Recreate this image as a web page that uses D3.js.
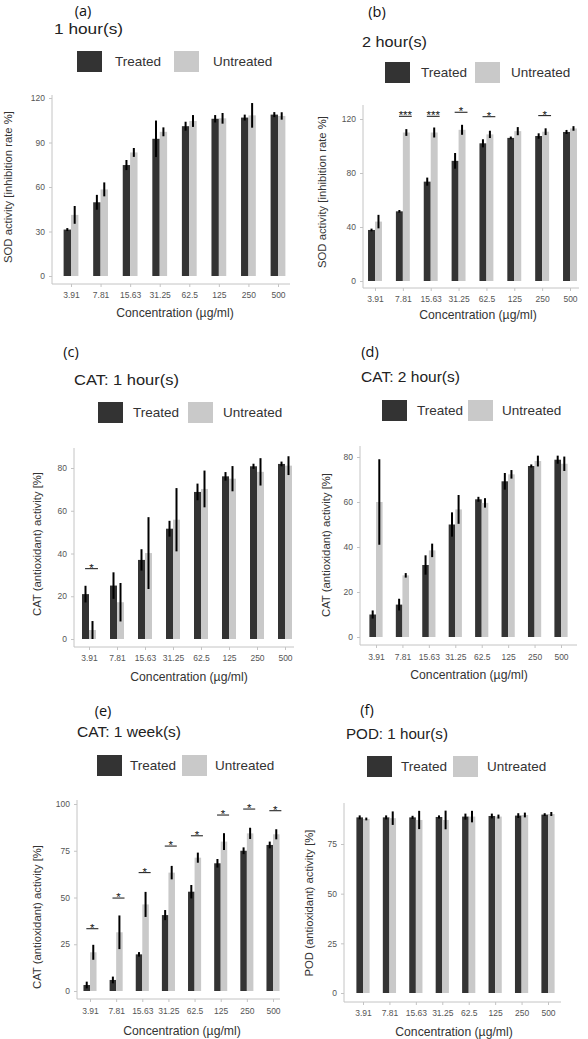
<!DOCTYPE html>
<html><head><meta charset="utf-8">
<script src="https://cdn.jsdelivr.net/npm/d3@7"></script>
<style>body{margin:0;background:#fff}svg{display:block}text{font-family:"Liberation Sans",Arial,sans-serif}</style>
</head><body><svg id="c" width="588" height="1039"></svg>
<script>
// ---------- DATA ----------
const concentrations = ["3.91","7.81","15.63","31.25","62.5","125","250","500"];
const seriesNames = ["Treated","Untreated"];

const sod1hTreated      = [31.3, 49.7, 74.8, 92.5, 101, 106, 106.8, 108.8];
const sod1hTreatedErr   = [1, 5, 3.4, 12.3, 3, 2.5, 2, 1.7];
const sod1hUntreated    = [41.2, 58.4, 83.3, 97.2, 104.5, 106.3, 108.3, 107.9];
const sod1hUntreatedErr = [6, 4.7, 3, 3, 4, 3.6, 8.3, 2.5];
const sod1hTicks = [0, 30, 60, 90, 120];

const sod2hTreated      = [37.8, 51.6, 73.6, 89, 102, 106, 107.4, 110.4];
const sod2hTreatedErr   = [1, 1, 3, 5.8, 3, 1, 2, 1.5];
const sod2hUntreated    = [44, 110, 110, 112, 108.6, 111, 110.6, 113];
const sod2hUntreatedErr = [5, 2.5, 3.7, 3.7, 2.7, 3, 2.5, 1.7];
const sod2hSigLabels = ["", "***", "***", "*", "*", "", "*", ""];
const sod2hSigY      = [null, 122, 122, 125, 121.7, null, 122.5, null];
const sod2hTicks = [0, 40, 80, 120];

const cat1hTreated      = [21, 25, 37, 51.6, 68.8, 76.1, 80.8, 81.9];
const cat1hTreatedErr   = [3.9, 6.2, 5, 3.7, 3.9, 2, 1.2, 1.1];
const cat1hUntreated    = [4.2, 17.2, 40.2, 55.8, 70.2, 75, 78.2, 81.1];
const cat1hUntreatedErr = [4.2, 9, 16.8, 14.8, 8.6, 5.9, 6.4, 4.4];
const cat1hSigLabels = ["*", "", "", "", "", "", "", ""];
const cat1hSigY      = [32.9, null, null, null, null, null, null, null];
const cat1hTicks = [0, 20, 40, 60, 80];

const cat2hTreated      = [10, 14.4, 32, 50, 61.2, 69.2, 76, 78.8];
const cat2hTreatedErr   = [1.8, 2.6, 4.3, 5.4, 1.1, 3.7, 0.7, 1.8];
const cat2hUntreated    = [60, 27.4, 38.5, 56.7, 59.6, 72.3, 78.2, 77];
const cat2hUntreatedErr = [19, 1, 3, 6.4, 2.1, 1.9, 2.4, 3.2];
const cat2hTicks = [0, 20, 40, 60, 80];

const cat1wTreated      = [3.2, 5.9, 19.6, 40.6, 53.1, 68.3, 75, 78.1];
const cat1wTreatedErr   = [1.8, 1.8, 1.2, 2.7, 3.6, 2.3, 1.8, 1.8];
const cat1wUntreated    = [20.7, 31.4, 46.3, 63.3, 71.3, 79.9, 84.3, 83.8];
const cat1wUntreatedErr = [4, 9, 6.7, 3.6, 2.7, 4.5, 3, 2.7];
const cat1wSigLabels = ["*", "*", "*", "*", "*", "*", "*", "*"];
const cat1wSigY      = [33.3, 49.7, 63.3, 77.5, 83, 94.1, 97.3, 96.4];
const cat1wTicks = [0, 25, 50, 75, 100];

const pod1hTreated      = [88.4, 88.4, 88.4, 88.6, 88.8, 89.1, 89.3, 89.8];
const pod1hTreatedErr   = [1, 1, 0.8, 0.8, 1.5, 1.2, 1.2, 0.7];
const pod1hUntreated    = [87.6, 88, 87.1, 87.1, 88.8, 88.8, 89.6, 90.1];
const pod1hUntreatedErr = [0.7, 3.4, 4.6, 4.7, 2.9, 1, 1.2, 1];
const pod1hTicks = [0, 25, 50, 75];

const panelLetters = ["(a)", "(b)", "(c)", "(d)", "(e)", "(f)"];
const panelTitles = ["1 hour(s)", "2 hour(s)", "CAT: 1 hour(s)", "CAT: 2 hour(s)", "CAT: 1 week(s)", "POD: 1 hour(s)"];
const yTitles = ["SOD activity [inhibition rate %]", "SOD activity [inhibition rate %]",
  "CAT (antioxidant) activity [%]", "CAT (antioxidant) activity [%]",
  "CAT (antioxidant) activity [%]", "POD (antioxidant) activity [%]"];
const xTitle = "Concentration (\u00b5g/ml)";

// ---------- LAYOUT ----------
const colors = {Treated: "#333333", Untreated: "#c9c9c9"};
const panels = [
  {t: sod1hTreated, te: sod1hTreatedErr, u: sod1hUntreated, ue: sod1hUntreatedErr, ticks: sod1hTicks,
   left: 52, right: 290, c0: 71, c1: 278, top: 95, bottom: 284, y0: 276, yRef: 98, ref: 120,
   letter: [83, 10], title: [54, 28, 69], legend: [77, 51, 115, 174, 213], yt: [8, 187], xt: [175, 313], tickY: 295},
  {t: sod2hTreated, te: sod2hTreatedErr, u: sod2hUntreated, ue: sod2hUntreatedErr, ticks: sod2hTicks,
   sigL: sod2hSigLabels, sigY: sod2hSigY,
   left: 363, right: 579, c0: 375, c1: 570, top: 105, bottom: 288, y0: 281, yRef: 119, ref: 120,
   letter: [377, 11], title: [362, 41, 65], legend: [385, 62, 421, 475, 511], yt: [322, 192], xt: [478, 315], tickY: 299},
  {t: cat1hTreated, te: cat1hTreatedErr, u: cat1hUntreated, ue: cat1hUntreatedErr, ticks: cat1hTicks,
   sigL: cat1hSigLabels, sigY: cat1hSigY,
   left: 74, right: 294, c0: 89, c1: 285, top: 448, bottom: 647, y0: 639, yRef: 468, ref: 80,
   letter: [71, 351], title: [74, 379, 105], legend: [98, 402, 133, 188, 223], yt: [37, 544], xt: [189, 677], tickY: 658},
  {t: cat2hTreated, te: cat2hTreatedErr, u: cat2hUntreated, ue: cat2hUntreatedErr, ticks: cat2hTicks,
   left: 360, right: 577, c0: 376, c1: 561, top: 446, bottom: 645, y0: 637, yRef: 457, ref: 80,
   letter: [370, 351], title: [361, 376, 99], legend: [382, 400, 417, 468, 502], yt: [326, 545], xt: [469, 675], tickY: 657},
  {t: cat1wTreated, te: cat1wTreatedErr, u: cat1wUntreated, ue: cat1wUntreatedErr, ticks: cat1wTicks,
   sigL: cat1wSigLabels, sigY: cat1wSigY,
   left: 77, right: 280, c0: 90, c1: 273, top: 800, bottom: 999, y0: 991, yRef: 804, ref: 100,
   letter: [103, 710], title: [77, 731, 104], legend: [97, 755, 130, 182, 215], yt: [37, 917], xt: [182, 1031], tickY: 1011},
  {t: pod1hTreated, te: pod1hTreatedErr, u: pod1hUntreated, ue: pod1hUntreatedErr, ticks: pod1hTicks,
   left: 344, right: 561, c0: 363, c1: 548, top: 803, bottom: 1002, y0: 993, yRef: 844, ref: 75,
   letter: [367, 709], title: [346, 733, 102], legend: [367, 756, 401, 453, 487], yt: [309, 903], xt: [454, 1032], tickY: 1013}
];

const svg = d3.select("#c");
svg.append("rect").attr("width", 588).attr("height", 1039).attr("fill", "#fff");

panels.forEach((p, i) => {
  const g = svg.append("g");
  const x = d3.scalePoint().domain(concentrations).range([p.c0, p.c1]);
  const step = x.step();
  const bw = step * 0.25;
  const y = d3.scaleLinear().domain([0, p.ref]).range([p.y0, p.yRef]);

  // panel letter
  g.append("text").attr("x", p.letter[0]).attr("y", p.letter[1]).attr("text-anchor", "middle")
    .attr("dominant-baseline", "central").attr("font-size", 14.5).attr("fill", "#111")
    .style("font-family", "'Open Sans','Liberation Sans',sans-serif").text(panelLetters[i]);
  // title
  g.append("text").attr("x", p.title[0]).attr("y", p.title[1]).attr("dominant-baseline", "central")
    .attr("font-size", 15.5).attr("fill", "#222").attr("textLength", p.title[2]).attr("lengthAdjust", "spacingAndGlyphs")
    .text(panelTitles[i]);
  // legend
  const L = p.legend;
  [[L[0], L[2], "Treated"], [L[3], L[4], "Untreated"]].forEach(([sx, tx, name]) => {
    g.append("rect").attr("x", sx).attr("y", L[1]).attr("width", 25).attr("height", 21).attr("fill", colors[name]);
    g.append("text").attr("x", tx).attr("y", L[1] + 10.5).attr("dominant-baseline", "central")
      .attr("font-size", 13.5).attr("fill", "#333").text(name);
  });

  // axes lines
  g.append("line").attr("x1", p.left).attr("x2", p.left).attr("y1", p.top).attr("y2", p.bottom)
    .attr("stroke", "#c4c4c4").attr("stroke-width", 1);
  g.append("line").attr("x1", p.left).attr("x2", p.right).attr("y1", p.bottom).attr("y2", p.bottom)
    .attr("stroke", "#c4c4c4").attr("stroke-width", 1);

  // y axis ticks
  const yAxis = d3.axisLeft(y).tickValues(p.ticks).tickSize(3).tickPadding(4).tickFormat(d3.format("d"));
  const ya = g.append("g").attr("transform", `translate(${p.left},0)`).call(yAxis);
  ya.select(".domain").remove();
  ya.selectAll("line").attr("stroke", "#c4c4c4");
  ya.selectAll("text").attr("font-size", 8.5).attr("fill", "#555").style("font-family", "'Liberation Sans',Arial,sans-serif");

  // x axis ticks
  const xAxis = d3.axisBottom(x).tickSize(3).tickPadding(0);
  const xa = g.append("g").attr("transform", `translate(0,${p.bottom})`).call(xAxis);
  xa.select(".domain").remove();
  xa.selectAll("line").attr("stroke", "#c4c4c4");
  xa.selectAll("text").attr("font-size", 8.5).attr("fill", "#555").attr("dy", null)
    .attr("y", p.tickY - p.bottom).attr("dominant-baseline", "central")
    .style("font-family", "'Liberation Sans',Arial,sans-serif");

  // axis titles
  g.append("text").attr("transform", `translate(${p.yt[0]},${p.yt[1]}) rotate(-90)`).attr("text-anchor", "middle")
    .attr("dominant-baseline", "central").attr("font-size", 11.3).attr("fill", "#333").text(yTitles[i]);
  g.append("text").attr("x", p.xt[0]).attr("y", p.xt[1]).attr("text-anchor", "middle")
    .attr("dominant-baseline", "central").attr("font-size", 12.2).attr("fill", "#333").text(xTitle);

  // bars
  const rows = concentrations.map((c, k) => ({c, t: p.t[k], te: p.te[k], u: p.u[k], ue: p.ue[k]}));
  const bars = [];
  rows.forEach(r => {
    bars.push({c: r.c, v: r.t, e: r.te, s: "Treated", off: -bw});
    bars.push({c: r.c, v: r.u, e: r.ue, s: "Untreated", off: 0});
  });
  g.selectAll(".bar").data(bars).join("rect")
    .attr("x", d => x(d.c) + d.off).attr("width", bw)
    .attr("y", d => y(d.v)).attr("height", d => y(0) - y(d.v))
    .attr("fill", d => colors[d.s]);
  g.selectAll(".err").data(bars).join("line")
    .attr("x1", d => x(d.c) + d.off + bw / 2).attr("x2", d => x(d.c) + d.off + bw / 2)
    .attr("y1", d => y(Math.max(0, d.v - d.e))).attr("y2", d => y(d.v + d.e))
    .attr("stroke", "#000").attr("stroke-width", 2);

  // significance
  if (p.sigL) {
    const sig = concentrations.map((c, k) => ({c, l: p.sigL[k], v: p.sigY[k]})).filter(d => d.l);
    g.selectAll(".sigl").data(sig).join("line")
      .attr("x1", d => x(d.c) - step * 0.14).attr("x2", d => x(d.c) + step * 0.32)
      .attr("y1", d => y(d.v)).attr("y2", d => y(d.v)).attr("stroke", "#111").attr("stroke-width", 1);
    g.selectAll(".sigt").data(sig).join("text")
      .attr("x", d => x(d.c) + step * 0.09).attr("y", d => y(d.v) + 3).attr("text-anchor", "middle")
      .attr("font-size", 11.5).attr("fill", "#111").text(d => d.l);
  }
});
</script></body></html>
